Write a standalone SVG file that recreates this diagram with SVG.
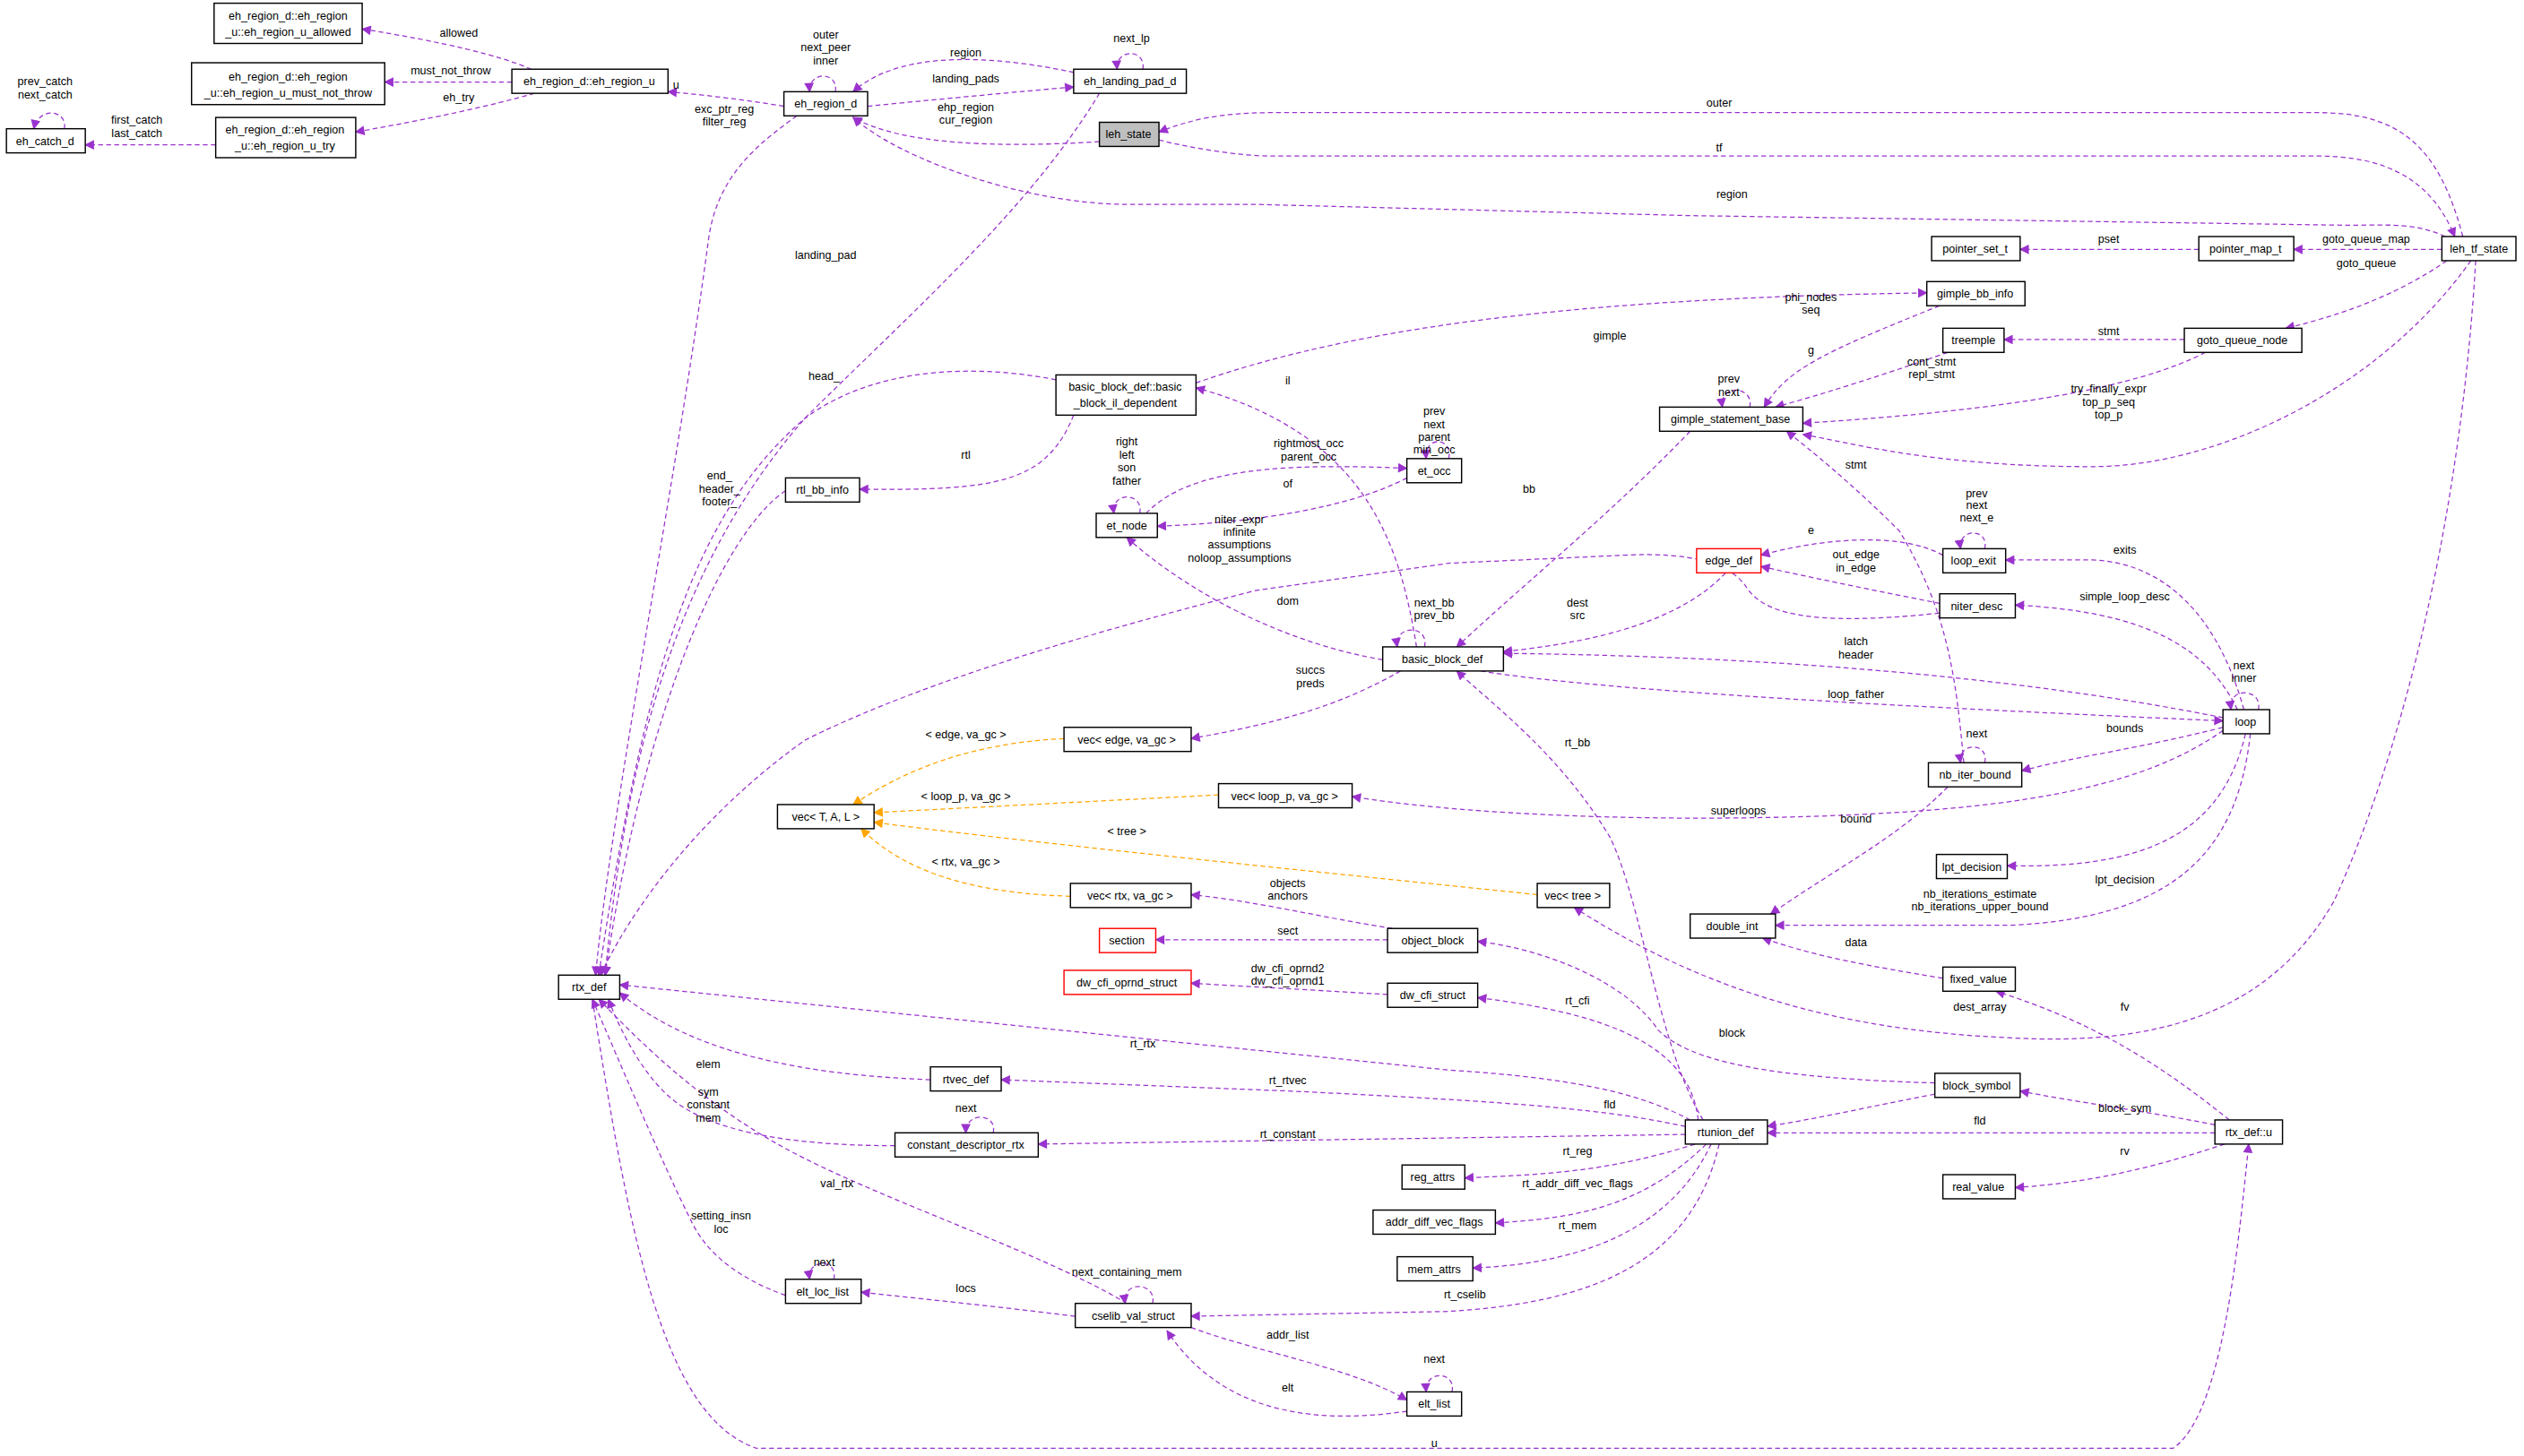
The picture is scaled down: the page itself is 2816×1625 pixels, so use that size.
<svg xmlns="http://www.w3.org/2000/svg" width="2816" height="1625" viewBox="0 0 2816 1625">
<style>
.n rect{fill:#fff;stroke:#000;stroke-width:.8}
.r rect{stroke:#f00}
.g rect{fill:#bfbfbf}
text{font-family:"Liberation Sans",Arial,sans-serif;font-size:7px;text-anchor:middle;fill:#000}
.e{fill:none;stroke:#9a32cd;stroke-width:.7;stroke-dasharray:3,2;marker-end:url(#a)}
.o{fill:none;stroke:#ffa500;stroke-width:.7;stroke-dasharray:3,2;marker-end:url(#b)}
</style>
<defs>
<marker id="a" viewBox="0 0 10 10" refX="9" refY="5" markerWidth="7" markerHeight="6" markerUnits="userSpaceOnUse" orient="auto"><path d="M0,0L10,5L0,10z" fill="#9a32cd"/></marker>
<marker id="b" viewBox="0 0 10 10" refX="9" refY="5" markerWidth="7" markerHeight="6" markerUnits="userSpaceOnUse" orient="auto"><path d="M0,0L10,5L0,10z" fill="#ffa500"/></marker>
</defs>
<rect width="2816" height="1625" fill="#fff"/>
<g transform="scale(1.7959)">
<g id="connectors">
<path class="e" d="M330,43Q300,30 225,18"/>
<path class="e" d="M318,51L239,51"/>
<path class="e" d="M332,58Q290,70 221,82"/>
<path class="e" d="M134,90L53,90"/>
<path class="e" d="M40,80C42,68 24,66 21,80"/>
<path class="e" d="M487,66Q450,60 415,57"/>
<path class="e" d="M519,57C521,44 502,44 503,57"/>
<path class="e" d="M667,45C620,35 560,30 530,57"/>
<path class="e" d="M539,66Q600,60 667,54"/>
<path class="e" d="M710,43C712,30 693,30 694,43"/>
<path class="e" d="M683,88C620,92 560,90 530,73"/>
<path class="e" d="M1530,147C1515,90 1490,70 1440,70L790,70C760,70 740,74 720,82"/>
<path class="e" d="M720,87C740,92 770,97 790,97L1440,97C1480,97 1510,110 1525,147"/>
<path class="e" d="M1519,147C1500,138 1480,140 1460,140L1050,134L780,127L700,127C640,127 560,100 530,73"/>
<path class="e" d="M1517,155L1425,155"/>
<path class="e" d="M1366,155L1255,155"/>
<path class="e" d="M1520,162Q1480,190 1420,204"/>
<path class="e" d="M1357,211L1245,211"/>
<path class="e" d="M1370,219C1330,240 1250,255 1120,263"/>
<path class="e" d="M1535,162C1480,240 1380,290 1300,290C1200,290 1150,275 1120,270"/>
<path class="e" d="M1205,190C1130,220 1110,230 1096,253"/>
<path class="e" d="M1210,219Q1150,240 1103,253"/>
<path class="e" d="M1087,253C1090,240 1068,238 1070,253"/>
<path class="e" d="M743,238C850,200 1000,185 1197,182"/>
<path class="e" d="M656,236C600,225 540,230 500,260C430,320 400,420 372,606"/>
<path class="e" d="M667,258C650,300 620,305 534,304"/>
<path class="e" d="M488,305C450,330 400,440 376,606"/>
<path class="e" d="M880,402C870,340 850,270 743,241"/>
<path class="e" d="M900,285C903,272 885,270 886,285"/>
<path class="e" d="M708,319C711,306 690,305 692,319"/>
<path class="e" d="M712,319C740,290 800,288 874,291"/>
<path class="e" d="M874,297C840,315 780,325 719,327"/>
<path class="e" d="M859,410C800,400 740,370 700,334"/>
<path class="e" d="M1205,381C1120,390 1095,380 1085,365C1075,350 1050,343 1010,345L900,350L780,367C650,400 560,430 500,460C430,510 390,570 373,606"/>
<path class="e" d="M1050,268C1000,320 950,360 905,402"/>
<path class="e" d="M1072,356C1040,390 980,400 934,405"/>
<path class="e" d="M885,402C888,388 866,388 868,402"/>
<path class="e" d="M1207,345C1180,330 1130,335 1094,345"/>
<path class="e" d="M1233,341C1236,328 1216,328 1218,341"/>
<path class="e" d="M1205,375C1170,368 1130,360 1094,352"/>
<path class="e" d="M1220,474C1215,420 1210,380 1180,330C1150,300 1125,280 1110,268"/>
<path class="e" d="M1394,441C1380,390 1350,350 1300,348L1246,348"/>
<path class="e" d="M1390,441C1370,400 1330,380 1252,376"/>
<path class="e" d="M1381,446C1250,420 1100,408 934,406"/>
<path class="e" d="M920,417C1000,430 1200,440 1381,448"/>
<path class="e" d="M1403,441C1406,428 1384,426 1386,441"/>
<path class="e" d="M1381,452C1330,465 1290,470 1256,479"/>
<path class="e" d="M1233,474C1236,461 1216,461 1218,474"/>
<path class="e" d="M1381,454C1330,490 1250,505 1100,508C1000,510 900,505 840,495"/>
<path class="e" d="M870,417C830,440 790,450 740,459"/>
<path class="e" d="M1210,489C1180,520 1140,540 1100,568"/>
<path class="e" d="M1395,456C1380,520 1330,540 1247,538"/>
<path class="e" d="M1398,456C1390,530 1350,570 1250,575L1103,575"/>
<path class="e" d="M1207,608C1160,600 1130,595 1095,583"/>
<path class="e" d="M1538,162C1530,300 1500,450 1450,560C1410,630 1340,650 1250,645C1130,640 1050,610 978,564"/>
<path class="e" d="M1385,696C1340,660 1300,635 1240,616"/>
<path class="o" d="M661,459C600,462 560,480 530,500"/>
<path class="o" d="M757,494L543,505"/>
<path class="o" d="M955,556C850,545 650,525 543,511"/>
<path class="o" d="M665,557C600,555 560,540 535,515"/>
<path class="e" d="M865,577C820,570 780,560 740,556"/>
<path class="e" d="M862,584L718,584"/>
<path class="e" d="M862,618L740,611"/>
<path class="e" d="M1050,696C1020,680 980,670 900,665L385,612"/>
<path class="e" d="M1047,700C1000,690 950,685 800,678L622,671"/>
<path class="e" d="M578,671C500,668 430,655 385,617"/>
<path class="e" d="M556,712C480,712 440,700 420,685C400,670 385,640 378,621"/>
<path class="e" d="M617,704C620,692 600,690 600,704"/>
<path class="e" d="M1047,705L645,711"/>
<path class="e" d="M1058,696C1030,650 1020,560 1000,520C970,470 930,440 905,417"/>
<path class="e" d="M1202,673C1100,670 1050,660 1030,640C1010,610 960,590 918,585"/>
<path class="e" d="M1055,696C1050,650 1000,630 918,620"/>
<path class="e" d="M1202,680C1160,688 1130,695 1098,700"/>
<path class="e" d="M1376,699C1330,690 1290,685 1255,678"/>
<path class="e" d="M1376,704L1098,704"/>
<path class="e" d="M1382,711C1340,725 1300,735 1252,738"/>
<path class="e" d="M1053,711C1000,728 960,730 910,732"/>
<path class="e" d="M1060,711C1020,750 980,757 929,760"/>
<path class="e" d="M1063,711C1040,760 990,785 915,788"/>
<path class="e" d="M1068,711C1050,790 980,810 900,815L740,818"/>
<path class="e" d="M700,810C650,780 560,750 500,720C440,690 400,650 372,621"/>
<path class="e" d="M716,810C719,797 697,795 699,810"/>
<path class="e" d="M668,818C620,812 580,808 535,803"/>
<path class="e" d="M488,805C460,795 440,780 430,760C410,720 385,660 368,621"/>
<path class="e" d="M518,795C521,782 501,782 503,795"/>
<path class="e" d="M740,825C780,840 840,850 874,870"/>
<path class="e" d="M874,877C820,885 760,880 725,827"/>
<path class="e" d="M902,865C905,852 885,851 886,865"/>
<path class="e" d="M368,621C390,760 410,880 470,900L1350,900C1380,880 1390,780 1397,711"/>
<path class="e" d="M495,72C470,90 445,110 440,150C420,300 380,500 370,606"/>
<path class="e" d="M683,58C640,130 560,200 500,260C430,340 390,450 376,606"/>
<g>
<text x="285" y="23">allowed</text>
<text x="280" y="46">must_not_throw</text>
<text x="285" y="63">eh_try</text>
<text x="85" y="77">first_catch</text><text x="85" y="85">last_catch</text>
<text x="28" y="53">prev_catch</text><text x="28" y="61">next_catch</text>
<text x="420" y="55">u</text>
<text x="513" y="24">outer</text><text x="513" y="32">next_peer</text><text x="513" y="40">inner</text>
<text x="600" y="35">region</text>
<text x="600" y="51">landing_pads</text>
<text x="703" y="26">next_lp</text>
<text x="600" y="69">ehp_region</text><text x="600" y="77">cur_region</text>
<text x="450" y="70">exc_ptr_reg</text><text x="450" y="78">filter_reg</text>
<text x="1068" y="66">outer</text>
<text x="1068" y="94">tf</text>
<text x="1076" y="123">region</text>
<text x="1470" y="151">goto_queue_map</text>
<text x="1310" y="151">pset</text>
<text x="1470" y="166">goto_queue</text>
<text x="1310" y="208">stmt</text>
<text x="1200" y="227">cont_stmt</text><text x="1200" y="235">repl_stmt</text>
<text x="1310" y="244">try_finally_expr</text><text x="1310" y="252">top_p_seq</text><text x="1310" y="260">top_p</text>
<text x="1125" y="187">phi_nodes</text><text x="1125" y="195">seq</text>
<text x="1125" y="220">g</text>
<text x="1074" y="238">prev</text><text x="1074" y="246">next</text>
<text x="1000" y="211">gimple</text>
<text x="512" y="236">head_</text>
<text x="513" y="161">landing_pad</text>
<text x="600" y="285">rtl</text>
<text x="447" y="298">end_</text><text x="447" y="306">header_</text><text x="447" y="314">footer_</text>
<text x="800" y="239">il</text>
<text x="891" y="258">prev</text><text x="891" y="266">next</text><text x="891" y="274">parent</text><text x="891" y="282">min_occ</text>
<text x="700" y="277">right</text><text x="700" y="285">left</text><text x="700" y="293">son</text><text x="700" y="301">father</text>
<text x="813" y="278">rightmost_occ</text><text x="813" y="286">parent_occ</text>
<text x="800" y="303">of</text>
<text x="800" y="376">dom</text>
<text x="770" y="325">niter_expr</text><text x="770" y="333">infinite</text><text x="770" y="341">assumptions</text><text x="770" y="349">noloop_assumptions</text>
<text x="950" y="306">bb</text>
<text x="980" y="377">dest</text><text x="980" y="385">src</text>
<text x="891" y="377">next_bb</text><text x="891" y="385">prev_bb</text>
<text x="1125" y="332">e</text>
<text x="1228" y="309">prev</text><text x="1228" y="316">next</text><text x="1228" y="324">next_e</text>
<text x="1153" y="347">out_edge</text><text x="1153" y="355">in_edge</text>
<text x="1153" y="291">stmt</text>
<text x="1320" y="344">exits</text>
<text x="1320" y="373">simple_loop_desc</text>
<text x="1153" y="401">latch</text><text x="1153" y="409">header</text>
<text x="1153" y="434">loop_father</text>
<text x="1394" y="416">next</text><text x="1394" y="424">inner</text>
<text x="1320" y="455">bounds</text>
<text x="1228" y="458">next</text>
<text x="1080" y="506">superloops</text>
<text x="814" y="419">succs</text><text x="814" y="427">preds</text>
<text x="1153" y="511">bound</text>
<text x="1320" y="549">lpt_decision</text>
<text x="1230" y="558">nb_iterations_estimate</text><text x="1230" y="566">nb_iterations_upper_bound</text>
<text x="1153" y="588">data</text>
<text x="1230" y="628">dest_array</text>
<text x="1320" y="628">fv</text>
<text x="600" y="459">&lt; edge, va_gc &gt;</text>
<text x="600" y="497">&lt; loop_p, va_gc &gt;</text>
<text x="700" y="519">&lt; tree &gt;</text>
<text x="600" y="538">&lt; rtx, va_gc &gt;</text>
<text x="800" y="551">objects</text><text x="800" y="559">anchors</text>
<text x="800" y="581">sect</text>
<text x="800" y="604">dw_cfi_oprnd2</text><text x="800" y="612">dw_cfi_oprnd1</text>
<text x="710" y="651">rt_rtx</text>
<text x="440" y="664">elem</text>
<text x="800" y="674">rt_rtvec</text>
<text x="440" y="681">sym</text><text x="440" y="689">constant</text><text x="440" y="697">mem</text>
<text x="600" y="691">next</text>
<text x="800" y="707">rt_constant</text>
<text x="980" y="464">rt_bb</text>
<text x="1076" y="644">block</text>
<text x="980" y="624">rt_cfi</text>
<text x="1000" y="689">fld</text>
<text x="1320" y="691">block_sym</text>
<text x="1230" y="699">fld</text>
<text x="1320" y="718">rv</text>
<text x="980" y="718">rt_reg</text>
<text x="980" y="738">rt_addr_diff_vec_flags</text>
<text x="980" y="764">rt_mem</text>
<text x="910" y="807">rt_cselib</text>
<text x="520" y="738">val_rtx</text>
<text x="700" y="793">next_containing_mem</text>
<text x="600" y="803">locs</text>
<text x="448" y="758">setting_insn</text><text x="448" y="766">loc</text>
<text x="512" y="787">next</text>
<text x="800" y="832">addr_list</text>
<text x="800" y="865">elt</text>
<text x="891" y="847">next</text>
<text x="891" y="899">u</text>
</g>
</g>
<g id="n1" class="n"><rect x="133" y="2" width="92" height="25"/><text x="179" y="12">eh_region_d::eh_region</text><text x="179" y="22">_u::eh_region_u_allowed</text></g>
<g id="n2" class="n"><rect x="119" y="39" width="120" height="26"/><text x="179" y="50">eh_region_d::eh_region</text><text x="179" y="60">_u::eh_region_u_must_not_throw</text></g>
<g id="n3" class="n"><rect x="134" y="73" width="87" height="25"/><text x="177" y="83">eh_region_d::eh_region</text><text x="177" y="93">_u::eh_region_u_try</text></g>
<g id="n4" class="n"><rect x="4" y="80" width="49" height="15"/><text x="28" y="90">eh_catch_d</text></g>
<g id="n5" class="n"><rect x="318" y="43" width="97" height="15"/><text x="366" y="53">eh_region_d::eh_region_u</text></g>
<g id="n6" class="n"><rect x="487" y="57" width="52" height="15"/><text x="513" y="67">eh_region_d</text></g>
<g id="n7" class="n"><rect x="667" y="43" width="70" height="15"/><text x="702" y="53">eh_landing_pad_d</text></g>
<g id="n8" class="n g"><rect x="683" y="76" width="37" height="15"/><text x="701" y="86">leh_state</text></g>
<g id="n9" class="n"><rect x="1517" y="147" width="46" height="15"/><text x="1540" y="157">leh_tf_state</text></g>
<g id="n10" class="n"><rect x="1200" y="147" width="55" height="15"/><text x="1227" y="157">pointer_set_t</text></g>
<g id="n11" class="n"><rect x="1366" y="147" width="59" height="15"/><text x="1395" y="157">pointer_map_t</text></g>
<g id="n12" class="n"><rect x="1197" y="175" width="61" height="15"/><text x="1227" y="185">gimple_bb_info</text></g>
<g id="n13" class="n"><rect x="1207" y="204" width="38" height="15"/><text x="1226" y="214">treemple</text></g>
<g id="n14" class="n"><rect x="1357" y="204" width="73" height="15"/><text x="1393" y="214">goto_queue_node</text></g>
<g id="n15" class="n"><rect x="1031" y="253" width="89" height="15"/><text x="1075" y="263">gimple_statement_base</text></g>
<g id="n16" class="n"><rect x="656" y="233" width="87" height="25"/><text x="699" y="243">basic_block_def::basic</text><text x="699" y="253">_block_il_dependent</text></g>
<g id="n17" class="n"><rect x="488" y="297" width="46" height="15"/><text x="511" y="307">rtl_bb_info</text></g>
<g id="n18" class="n"><rect x="681" y="319" width="38" height="15"/><text x="700" y="329">et_node</text></g>
<g id="n19" class="n"><rect x="874" y="285" width="34" height="15"/><text x="891" y="295">et_occ</text></g>
<g id="n20" class="n r"><rect x="1054" y="341" width="40" height="15"/><text x="1074" y="351">edge_def</text></g>
<g id="n21" class="n"><rect x="1207" y="341" width="39" height="15"/><text x="1226" y="351">loop_exit</text></g>
<g id="n22" class="n"><rect x="1205" y="369" width="47" height="15"/><text x="1228" y="379">niter_desc</text></g>
<g id="n23" class="n"><rect x="859" y="402" width="75" height="15"/><text x="896" y="412">basic_block_def</text></g>
<g id="n24" class="n"><rect x="1381" y="441" width="29" height="15"/><text x="1395" y="451">loop</text></g>
<g id="n25" class="n"><rect x="1198" y="474" width="58" height="15"/><text x="1227" y="484">nb_iter_bound</text></g>
<g id="n26" class="n"><rect x="661" y="452" width="79" height="15"/><text x="700" y="462">vec&lt; edge, va_gc &gt;</text></g>
<g id="n27" class="n"><rect x="757" y="487" width="83" height="15"/><text x="798" y="497">vec&lt; loop_p, va_gc &gt;</text></g>
<g id="n28" class="n"><rect x="483" y="500" width="60" height="15"/><text x="513" y="510">vec&lt; T, A, L &gt;</text></g>
<g id="n29" class="n"><rect x="1203" y="531" width="44" height="15"/><text x="1225" y="541">lpt_decision</text></g>
<g id="n30" class="n"><rect x="665" y="549" width="75" height="15"/><text x="702" y="559">vec&lt; rtx, va_gc &gt;</text></g>
<g id="n31" class="n"><rect x="955" y="549" width="45" height="15"/><text x="977" y="559">vec&lt; tree &gt;</text></g>
<g id="n32" class="n"><rect x="1050" y="568" width="53" height="15"/><text x="1076" y="578">double_int</text></g>
<g id="n33" class="n r"><rect x="683" y="577" width="35" height="15"/><text x="700" y="587">section</text></g>
<g id="n34" class="n"><rect x="862" y="577" width="56" height="15"/><text x="890" y="587">object_block</text></g>
<g id="n35" class="n"><rect x="1207" y="601" width="45" height="15"/><text x="1229" y="611">fixed_value</text></g>
<g id="n36" class="n r"><rect x="661" y="603" width="79" height="15"/><text x="700" y="613">dw_cfi_oprnd_struct</text></g>
<g id="n37" class="n"><rect x="862" y="611" width="56" height="15"/><text x="890" y="621">dw_cfi_struct</text></g>
<g id="n38" class="n"><rect x="347" y="606" width="38" height="15"/><text x="366" y="616">rtx_def</text></g>
<g id="n39" class="n"><rect x="578" y="663" width="44" height="15"/><text x="600" y="673">rtvec_def</text></g>
<g id="n40" class="n"><rect x="1202" y="667" width="53" height="15"/><text x="1228" y="677">block_symbol</text></g>
<g id="n41" class="n"><rect x="556" y="704" width="89" height="15"/><text x="600" y="714">constant_descriptor_rtx</text></g>
<g id="n42" class="n"><rect x="1047" y="696" width="51" height="15"/><text x="1072" y="706">rtunion_def</text></g>
<g id="n43" class="n"><rect x="1376" y="696" width="42" height="15"/><text x="1397" y="706">rtx_def::u</text></g>
<g id="n44" class="n"><rect x="871" y="724" width="39" height="15"/><text x="890" y="734">reg_attrs</text></g>
<g id="n45" class="n"><rect x="1207" y="730" width="45" height="15"/><text x="1229" y="740">real_value</text></g>
<g id="n46" class="n"><rect x="853" y="752" width="76" height="15"/><text x="891" y="762">addr_diff_vec_flags</text></g>
<g id="n47" class="n"><rect x="868" y="781" width="47" height="15"/><text x="891" y="791">mem_attrs</text></g>
<g id="n48" class="n"><rect x="488" y="795" width="47" height="15"/><text x="511" y="805">elt_loc_list</text></g>
<g id="n49" class="n"><rect x="668" y="810" width="72" height="15"/><text x="704" y="820">cselib_val_struct</text></g>
<g id="n50" class="n"><rect x="874" y="865" width="34" height="15"/><text x="891" y="875">elt_list</text></g>
</g>
</svg>
